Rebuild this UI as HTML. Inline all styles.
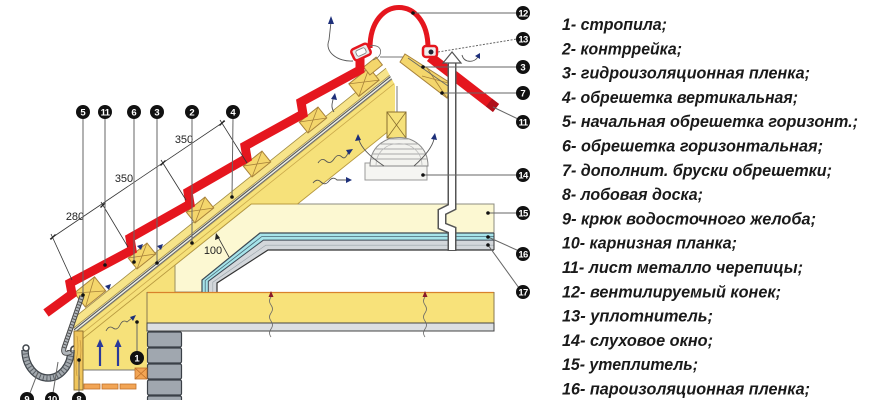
<!DOCTYPE html>
<html><head><meta charset="utf-8">
<style>
html,body{margin:0;padding:0;background:#fff;}
svg{display:block;}
</style></head><body>
<svg width="870" height="400" viewBox="0 0 870 400" xmlns="http://www.w3.org/2000/svg">
<defs>
<clipPath id="rc"><polygon points="0,0 380,0 380,57 395,85 395,400 0,400"/></clipPath>
<clipPath id="dome"><path d="M370,166 C370,128 428,128 428,166 Z"/></clipPath>
</defs>
<rect width="870" height="400" fill="#fff"/>

<!-- insulation 15 (pale) -->
<polygon points="251.25,204 494,204 494,233 260,233 202,280 202,292 175,292 175,265" fill="#fcf8d2" stroke="#8c8c80" stroke-width="1"/>

<!-- lower yellow eave fill -->
<polygon points="83,338.6 175,265 175,292 147,292 147,370 83,370" fill="#f6e17a"/>
<line x1="175" y1="265" x2="175" y2="292" stroke="#9a9060" stroke-width="1"/>
<line x1="83" y1="370" x2="147" y2="370" stroke="#777" stroke-width="1"/>

<!-- left slope layers -->
<g clip-path="url(#rc)">
  <polygon points="74,333.8 400,73 400,122 297.5,204 251.25,204 74,345.8" fill="#f6e17a" stroke="#b89a40" stroke-width="0.9"/>
  <line x1="74" y1="339.8" x2="400" y2="79" stroke="#c9a84a" stroke-width="0.8"/>
  <polygon points="74,327.8 400,67 400,73 74,333.8" fill="#eef0e6"/>
  <line x1="74" y1="329.8" x2="400" y2="69" stroke="#555" stroke-width="1.1"/>
  <line x1="74" y1="333" x2="400" y2="72.2" stroke="#666" stroke-width="1"/>
  <polygon points="74,317.8 400,57 400,67 74,327.8" fill="#f7e48a" stroke="#a08a40" stroke-width="0.8"/>
</g>

<!-- film band 16/17 -->
<polygon points="494,233 260,233 202,280 202,292 217,292 217,283 268,250 494,250" fill="#d3d7db"/>
<polygon points="494,233 260,233 202,280 202,292 208.3,292 208.3,281.3 263.4,240.1 494,240.1" fill="#a6e4ea"/>
<polyline points="494,233 260,233 202,280 202,292" fill="none" stroke="#3e4a55" stroke-width="1.2"/>
<polyline points="494,236.6 261.7,236.6 205.2,280.6 205.2,292" fill="none" stroke="#4a6a78" stroke-width="0.8"/>
<polyline points="494,240.1 263.4,240.1 208.3,281.3 208.3,292" fill="none" stroke="#3e4a55" stroke-width="1"/>
<polyline points="494,245.2 265.8,245.2 212.8,282.2 212.8,292" fill="none" stroke="#9aa4aa" stroke-width="0.6"/>
<polyline points="494,250 268,250 217,283 217,292" fill="none" stroke="#333" stroke-width="1.2"/>
<line x1="494" y1="233" x2="494" y2="250" stroke="#333" stroke-width="1"/>

<!-- beam -->
<rect x="147" y="292" width="347" height="31" fill="#f8e27a"/>
<line x1="147" y1="292.5" x2="494" y2="292.5" stroke="#d9822b" stroke-width="1.2"/>
<line x1="494" y1="292" x2="494" y2="323" stroke="#8a7a50" stroke-width="1"/>
<line x1="147" y1="292" x2="147" y2="323" stroke="#8a7a50" stroke-width="1"/>
<rect x="147" y="323" width="347" height="8" fill="#dcdfe2" stroke="#444" stroke-width="1"/>

<!-- wavy lines in beam -->
<path d="M271,337 q-3,-4 0,-8 q3,-4 0,-8 q-3,-4 0,-8 q3,-4 0,-8 q-3,-4 0,-8" fill="none" stroke="#666" stroke-width="0.8"/>
<polygon points="271,291 268.5,297 273.5,297" fill="#8a1a2a"/>
<path d="M425,337 q-3,-4 0,-8 q3,-4 0,-8 q-3,-4 0,-8 q3,-4 0,-8 q-3,-4 0,-8" fill="none" stroke="#666" stroke-width="0.8"/>
<polygon points="425,291 422.5,297 427.5,297" fill="#8a1a2a"/>

<!-- bricks -->
<g fill="#a0a7af" stroke="#3a4047" stroke-width="1.2">
<rect x="147.5" y="332" width="34" height="15" rx="1.5"/>
<rect x="147.5" y="348" width="34" height="15" rx="1.5"/>
<rect x="147.5" y="364" width="34" height="15" rx="1.5"/>
<rect x="147.5" y="380" width="34" height="15" rx="1.5"/>
<rect x="147.5" y="396" width="34" height="15" rx="1.5"/>
</g>

<!-- soffit -->
<g fill="#f2a555" stroke="#c0702a" stroke-width="0.8">
<rect x="84" y="384" width="16" height="5"/>
<rect x="102" y="384" width="16" height="5"/>
<rect x="120" y="384" width="16" height="5"/>
</g>
<rect x="135" y="368" width="12" height="11" fill="#f2a555" stroke="#c0702a" stroke-width="0.8"/>
<path d="M135,368 L147,379 M147,368 L135,379" stroke="#c0702a" stroke-width="0.8"/>

<!-- fascia 8 -->
<rect x="74" y="331" width="9" height="59" fill="#f0c65c" stroke="#8a6a2a" stroke-width="0.9"/>
<path d="M77,336 q2,10 0,20 q-2,10 0,20 M80,340 q2,10 0,20 q-2,10 0,20" fill="none" stroke="#c0903a" stroke-width="0.6"/>

<!-- eave blue arrows -->
<line x1="100" y1="366" x2="100" y2="346" stroke="#2a3a9a" stroke-width="2.2"/>
<polygon points="100,339 96.5,347 103.5,347" fill="#2a3a9a"/>
<line x1="118" y1="366" x2="118" y2="346" stroke="#2a3a9a" stroke-width="2.2"/>
<polygon points="118,339 114.5,347 121.5,347" fill="#2a3a9a"/>
<path d="M106,331 q3,-6 7,-3 q4,3 7,-3 q3,-6 7,-3 l5,-4" fill="none" stroke="#555" stroke-width="0.8"/>
<polygon points="136,315 130,317 133,321" fill="#1d2f7a"/>

<!-- battens -->
<g fill="#f4d66c" stroke="#a8823a" stroke-width="1">
<g transform="translate(90,292) rotate(-38.7)"><rect x="-13" y="-9" width="26" height="18"/><path d="M-13,-9 L13,9 M-13,9 L13,-9" stroke-width="0.8"/></g>
<g transform="translate(142,256) rotate(-38.7)"><rect x="-12" y="-7" width="24" height="14"/><path d="M-12,-7 L12,7 M-12,7 L12,-7" stroke-width="0.8"/></g>
<g transform="translate(200,210) rotate(-38.7)"><rect x="-12" y="-7" width="24" height="14"/><path d="M-12,-7 L12,7 M-12,7 L12,-7" stroke-width="0.8"/></g>
<g transform="translate(257,164) rotate(-38.7)"><rect x="-12" y="-7" width="24" height="14"/><path d="M-12,-7 L12,7 M-12,7 L12,-7" stroke-width="0.8"/></g>
<g transform="translate(313,120) rotate(-38.7)"><rect x="-12" y="-7" width="24" height="14"/><path d="M-12,-7 L12,7 M-12,7 L12,-7" stroke-width="0.8"/></g>
<g transform="translate(364,82) rotate(-38.7)"><rect x="-13" y="-8" width="26" height="16"/><path d="M-13,-8 L13,8 M-13,8 L13,-8" stroke-width="0.8"/></g>
<g transform="translate(373,66) rotate(-38.7)"><rect x="-8" y="-5" width="16" height="10"/></g>
</g>

<!-- small navy arrows on slope -->
<g fill="#1d2f7a">
<polygon points="143,244 137,246 141,250"/>
<polygon points="163,244 157,246 161,250"/>
<polygon points="111,284 105,286 109,290"/>
<polygon points="335,93 331,99 337,100"/>
</g>

<!-- tiles left -->
<polyline points="46,313 72,294 70,283 132,250 130,238 190,204 188,192 247,158 245,146 303,114 301,102 360,70 360,56" fill="none" stroke="#e5161e" stroke-width="9" stroke-linejoin="miter" stroke-miterlimit="10"/>

<!-- ridge parts -->
<line x1="380" y1="57" x2="408" y2="57" stroke="#777" stroke-width="1"/>
<line x1="397" y1="86" x2="397" y2="112" stroke="#777" stroke-width="1"/>
<rect x="387" y="112" width="19" height="26" fill="#f6e17a" stroke="#8a7030" stroke-width="1"/>
<path d="M387,112 L406,138 M406,112 L387,138" stroke="#8a7030" stroke-width="0.8"/>

<!-- right slope battens -->
<polygon points="405,54 452,84 447,98 400,62" fill="#f4d66c" stroke="#a8823a" stroke-width="1"/>
<path d="M427,68 L447,98 M452,84 L422,76" stroke="#a8823a" stroke-width="0.8"/>
<line x1="408" y1="58" x2="448" y2="86" stroke="#666" stroke-width="0.8"/>

<!-- right tile -->
<line x1="430" y1="57" x2="496" y2="108" stroke="#e5161e" stroke-width="10"/>
<line x1="489" y1="102.6" x2="496" y2="108" stroke="#b0101a" stroke-width="10"/>

<!-- ridge cap arc -->
<path d="M370,48 C370,-6 428,-6 428,48" fill="none" stroke="#e5161e" stroke-width="5"/>
<!-- left clip -->
<rect x="352" y="46" width="18" height="12" rx="3" fill="#e8e8e8" stroke="#e5161e" stroke-width="2.5" transform="rotate(-25 361 52)"/>
<rect x="356" y="49" width="10" height="6" rx="2" fill="#fff" stroke="#777" stroke-width="0.8" transform="rotate(-25 361 52)"/>
<path d="M370,46 C382,43 385,56 373,60" fill="none" stroke="#666" stroke-width="0.8"/>
<!-- right clip -->
<rect x="423" y="46" width="14" height="11" rx="3" fill="#eee" stroke="#e5161e" stroke-width="2.5"/>
<circle cx="431" cy="52" r="2.5" fill="#223"/>

<!-- dormer 14 -->
<rect x="365" y="163" width="62" height="17" fill="#f5f5f2" stroke="#9a9a9a" stroke-width="1"/>
<path d="M370,166 C370,128 428,128 428,166 Z" fill="#f3f3ef" stroke="#888" stroke-width="1"/>
<g clip-path="url(#dome)" stroke="#a8a8a8" stroke-width="0.9">
<line x1="366" y1="139" x2="432" y2="139"/>
<line x1="366" y1="144" x2="432" y2="144"/>
<line x1="366" y1="149" x2="432" y2="149"/>
<line x1="366" y1="154" x2="432" y2="154"/>
<line x1="366" y1="159" x2="432" y2="159"/>
</g>
<path d="M376,166 C376,136 422,136 422,166" fill="none" stroke="#bbb" stroke-width="0.8"/>

<!-- ventilation arrows -->
<g fill="none" stroke="#555" stroke-width="0.9">
<path d="M353,61 C338,62 324,52 329,40 L331,22"/>
<path d="M334,112 C330,106 333,102 333,99"/>
<path d="M384,166 C375,160 362,150 359,140"/>
<path d="M414,166 C423,158 432,148 434,139"/>
<path d="M318,163 q4,-6 8,-2 q4,4 8,-2 q4,-6 8,-2 q3,3 6,-4"/>
<path d="M313,183 q4,-5 8,-1 q4,4 8,-1 q4,-5 8,-1 L346,180"/>
<path d="M462,55 C464,63 474,63 478,57"/>
</g>
<g fill="#1d2f7a">
<polygon points="331,16 328,24 334,24"/>
<polygon points="358,134 355,141 361,140"/>
<polygon points="435,133 431,139 437,140"/>
<polygon points="353,149 346,150 349,155"/>
<polygon points="352,180 346,177 346,183"/>
<polygon points="480,53 475,56 480,59"/>
</g>

<!-- vent pipe -->
<path d="M452,62 L452,207 L442,212 L442,226 L452,230 L452,251" fill="none" stroke="#555" stroke-width="9"/>
<path d="M452,61 L452,207 L442,212 L442,226 L452,230 L452,250" fill="none" stroke="#fff" stroke-width="6"/>
<polygon points="452,52 443,63 461,63" fill="#fff" stroke="#555" stroke-width="1.2"/>

<!-- gutter & hanger -->
<path d="M25,350 A23,28 0 0 0 71,350" fill="none" stroke="#40464c" stroke-width="7.5"/>
<path d="M25,350 A23,28 0 0 0 71,350" fill="none" stroke="#a3a9ae" stroke-width="5"/>
<path d="M25,350 A23,28 0 0 0 71,350" fill="none" stroke="#5a6066" stroke-width="5" stroke-dasharray="1 2.5"/>
<circle cx="26" cy="348" r="3" fill="#fff" stroke="#40464c" stroke-width="1.5"/>
<path d="M82,296 L64,348 Q62,356 71,352" fill="none" stroke="#444" stroke-width="5"/>
<path d="M82,296 L64,348 Q62,356 71,352" fill="none" stroke="#b0b5ba" stroke-width="3.2"/>
<path d="M82,296 L64,348" fill="none" stroke="#555" stroke-width="3.2" stroke-dasharray="1 2"/>
<path d="M74,346 Q70,347 71,352" fill="none" stroke="#444" stroke-width="1.5"/>

<!-- dimension lines -->
<g stroke="#333" stroke-width="0.8" fill="none">
<line x1="225" y1="121" x2="50" y2="239"/>
<line x1="220" y1="120" x2="247" y2="163"/>
<line x1="161" y1="160" x2="186" y2="200"/>
<line x1="101" y1="202" x2="128" y2="247"/>
<line x1="51" y1="234" x2="72" y2="280"/>
<line x1="229" y1="257" x2="218" y2="237"/>
</g>
<g stroke="#222" stroke-width="1.3">
<line x1="219.5" y1="125.5" x2="224.5" y2="120.5"/>
<line x1="160.5" y1="165.5" x2="165.5" y2="160.5"/>
<line x1="100.5" y1="207.5" x2="105.5" y2="202.5"/>
<line x1="50.5" y1="239.5" x2="55.5" y2="234.5"/>
</g>
<polygon points="216,233 215,240 220,238" fill="#222"/>
<g font-family="Liberation Sans, sans-serif" font-size="11" fill="#222" text-anchor="middle">
<text x="184" y="143">350</text>
<text x="124" y="182">350</text>
<text x="75" y="220">280</text>
<text x="213" y="254">100</text>
</g>

<!-- leader lines -->
<g stroke="#666" stroke-width="1" fill="none">
<line x1="83" y1="118" x2="83" y2="295"/>
<line x1="105" y1="118" x2="105" y2="265"/>
<line x1="134" y1="118" x2="134" y2="262"/>
<line x1="157" y1="118" x2="157" y2="263"/>
<line x1="192" y1="118" x2="192" y2="243"/>
<line x1="233" y1="118" x2="232" y2="197"/>
<line x1="413" y1="13" x2="517" y2="13"/>
<line x1="438" y1="52" x2="517" y2="39" stroke-dasharray="2 1.5"/>
<line x1="423" y1="67" x2="517" y2="67"/>
<line x1="442" y1="93" x2="517" y2="93"/>
<line x1="493" y1="107" x2="518" y2="119"/>
<line x1="423" y1="175" x2="517" y2="175"/>
<line x1="488" y1="213" x2="517" y2="213"/>
<line x1="488" y1="237" x2="519" y2="251"/>
<line x1="488" y1="245" x2="519" y2="288"/>
<line x1="30" y1="393" x2="38" y2="372"/>
<line x1="53" y1="393" x2="58" y2="362"/>
<line x1="79" y1="393" x2="79" y2="360"/>
<line x1="137" y1="351" x2="137" y2="322"/>
</g>
<g fill="#111">
<circle cx="83" cy="295" r="1.8"/><circle cx="105" cy="265" r="1.8"/>
<circle cx="134" cy="262" r="1.8"/><circle cx="157" cy="263" r="1.8"/>
<circle cx="192" cy="243" r="1.8"/><circle cx="232" cy="197" r="1.8"/>
<circle cx="413" cy="13" r="1.8"/><circle cx="423" cy="67" r="1.8"/>
<circle cx="442" cy="93" r="1.8"/><circle cx="423" cy="175" r="1.8"/>
<circle cx="488" cy="213" r="1.8"/><circle cx="488" cy="237" r="1.8"/>
<circle cx="488" cy="245" r="1.8"/><circle cx="79" cy="360" r="1.8"/>
<circle cx="137" cy="322" r="1.8"/>
</g>

<!-- number labels -->
<g fill="#111">
<circle cx="83" cy="112" r="7"/><circle cx="105" cy="112" r="7"/>
<circle cx="134" cy="112" r="7"/><circle cx="157" cy="112" r="7"/>
<circle cx="192" cy="112" r="7"/><circle cx="233" cy="112" r="7"/>
<circle cx="523" cy="13" r="7"/><circle cx="523" cy="39" r="7"/>
<circle cx="523" cy="67" r="7"/><circle cx="523" cy="93" r="7"/>
<circle cx="523" cy="122" r="7"/><circle cx="523" cy="175" r="7"/>
<circle cx="523" cy="213" r="7"/><circle cx="523" cy="254" r="7"/>
<circle cx="523" cy="292" r="7"/>
<circle cx="27" cy="399" r="7"/><circle cx="52" cy="399" r="7"/>
<circle cx="79" cy="399" r="7"/><circle cx="137" cy="358" r="7"/>
</g>
<g font-family="Liberation Sans, sans-serif" font-weight="bold" font-size="9.5" fill="#fff" text-anchor="middle">
<text x="83" y="115.4">5</text>
<text x="105" y="115.4" letter-spacing="-0.6">11</text>
<text x="134" y="115.4">6</text>
<text x="157" y="115.4">3</text>
<text x="192" y="115.4">2</text>
<text x="233" y="115.4">4</text>
<text x="523" y="16.4" letter-spacing="-0.6">12</text>
<text x="523" y="42.4" letter-spacing="-0.6">13</text>
<text x="523" y="70.4">3</text>
<text x="523" y="96.4">7</text>
<text x="523" y="125.4" letter-spacing="-0.6">11</text>
<text x="523" y="178.4" letter-spacing="-0.6">14</text>
<text x="523" y="216.4" letter-spacing="-0.6">15</text>
<text x="523" y="257.4" letter-spacing="-0.6">16</text>
<text x="523" y="295.4" letter-spacing="-0.6">17</text>
<text x="27" y="402.4">9</text>
<text x="52" y="402.4" letter-spacing="-0.6">10</text>
<text x="79" y="402.4">8</text>
<text x="137" y="361.4">1</text>
</g>

<!-- legend text -->
<g font-family="Liberation Sans, sans-serif" font-weight="bold" font-style="italic" font-size="17" fill="#1a1a1a">
<text x="562" y="30" textLength="105" lengthAdjust="spacingAndGlyphs">1- стропила;</text>
<text x="562" y="54.3" textLength="120" lengthAdjust="spacingAndGlyphs">2- контррейка;</text>
<text x="562" y="78.6" textLength="248" lengthAdjust="spacingAndGlyphs">3- гидроизоляционная пленка;</text>
<text x="562" y="102.9" textLength="236" lengthAdjust="spacingAndGlyphs">4- обрешетка вертикальная;</text>
<text x="562" y="127.2" textLength="296" lengthAdjust="spacingAndGlyphs">5- начальная обрешетка горизонт.;</text>
<text x="562" y="151.5" textLength="261" lengthAdjust="spacingAndGlyphs">6- обрешетка горизонтальная;</text>
<text x="562" y="175.8" textLength="270" lengthAdjust="spacingAndGlyphs">7- дополнит. бруски обрешетки;</text>
<text x="562" y="200.1" textLength="141" lengthAdjust="spacingAndGlyphs">8- лобовая доска;</text>
<text x="562" y="224.4" textLength="254" lengthAdjust="spacingAndGlyphs">9- крюк водосточного желоба;</text>
<text x="562" y="248.7" textLength="175" lengthAdjust="spacingAndGlyphs">10- карнизная планка;</text>
<text x="562" y="273" textLength="241" lengthAdjust="spacingAndGlyphs">11- лист металло черепицы;</text>
<text x="562" y="297.3" textLength="219" lengthAdjust="spacingAndGlyphs">12- вентилируемый конек;</text>
<text x="562" y="321.6" textLength="151" lengthAdjust="spacingAndGlyphs">13- уплотнитель;</text>
<text x="562" y="345.9" textLength="151" lengthAdjust="spacingAndGlyphs">14- слуховое окно;</text>
<text x="562" y="370.2" textLength="136" lengthAdjust="spacingAndGlyphs">15- утеплитель;</text>
<text x="562" y="394.5" textLength="248" lengthAdjust="spacingAndGlyphs">16- пароизоляционная пленка;</text>
</g>
</svg>
</body></html>
